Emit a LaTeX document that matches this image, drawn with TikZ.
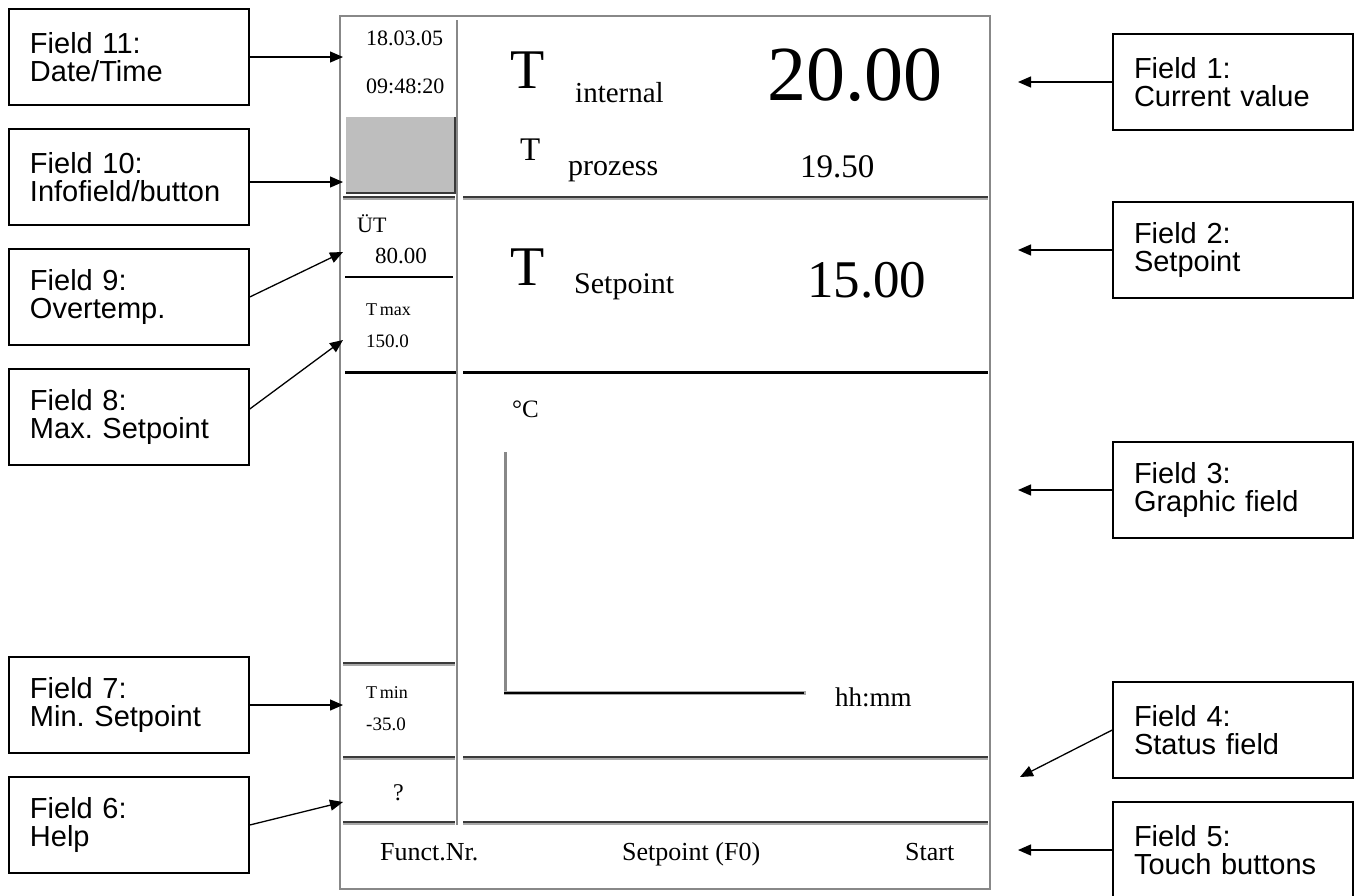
\documentclass[tikz,border=0pt]{standalone}
\usepackage{fontspec}
\setmainfont{Liberation Serif}
\newfontfamily\arialf{Liberation Sans}
\usetikzlibrary{arrows.meta,calc}
\definecolor{scrgray}{HTML}{888888}
\definecolor{darkln}{HTML}{3A3A3A}
\definecolor{lightln}{HTML}{A8A8A8}
\definecolor{btngray}{HTML}{BEBEBE}
\newcommand{\fs}[1]{\fontsize{#1}{#1}\selectfont}
\tikzset{
  callout/.style={draw=black, line width=1.5pt, minimum width=240pt, minimum height=96pt,
    text width=198pt, inner xsep=21pt, align=left, font=\arialf\fontsize{29}{28}\selectfont\frenchspacing},
  pointer/.style={line width=1.3pt, -{Triangle[length=13pt,width=11pt]}},
  screen/.style={draw=scrgray, line width=2pt},
  divider/.style={draw=scrgray, line width=2.5pt},
  dlo/.style={draw=lightln, line width=4.5pt},
  dli/.style={draw=darkln, line width=2.2pt},
  heavy/.style={draw=black, line width=3pt},
  thin/.style={draw=black, line width=1.5pt},
  lbl/.style={anchor=base west, inner sep=0pt},
}
\newcommand{\dbl}[3]{\draw[dlo] (#1,#3+0.8) -- (#2,#3+0.8); \draw[dli] (#1,#3) -- (#2,#3);}
\begin{document}
\begin{tikzpicture}[x=1pt,y=-1pt]
\useasboundingbox (0,0) rectangle (1361,895);
% ---------- screen ----------
\draw[screen] (340,16) rectangle (990,889);
\draw[divider] (457,20) -- (457,825);
% info button
\fill[btngray] (346,117) rectangle (455,193);
\draw[darkln, line width=2pt] (455,117) -- (455,193) -- (346,193);
% separators
\dbl{343}{455}{197}
\dbl{463}{988}{197}
\draw[thin] (345,277) -- (453,277);
\draw[heavy] (345,372) -- (456,372);
\draw[heavy] (463,372) -- (988,372);
\dbl{343}{455}{663}
\dbl{343}{455}{757}
\dbl{463}{988}{757}
\dbl{343}{455}{822}
\dbl{463}{988}{822}
% graph axes
\draw[scrgray, line width=3pt] (505,452) -- (505,694);
\draw[lightln, line width=4.5pt] (504,693) -- (806,693);
\draw[black, line width=2pt] (504,692.5) -- (804,692.5);
% ---------- screen texts ----------
\node[lbl] (date) at (366,45) {\fs{22}18.03.05};
\node[lbl] (time) at (366,93) {\fs{22}09:48:20};
\node[lbl] (tint) at (510,88) {\fs{56}T};
\node[lbl] (int) at (575,102) {\fs{29}internal};
\node[lbl] (val1) at (767,100) {\fs{78}20.00};
\node[lbl] (tpro) at (520,160) {\fs{33}T};
\node[lbl] (pro) at (568,175) {\fs{30}prozess};
\node[lbl] (val1b) at (800,177) {\fs{33}19.50};
\node[lbl] (ut) at (357,232) {\fs{22}ÜT};
\node[lbl] (utv) at (375,263) {\fs{23}80.00};
\node[lbl] (tmax) at (366,315) {\fs{18}T\kern0.15em max};
\node[lbl] (tmaxv) at (366,347) {\fs{19}150.0};
\node[lbl] (tset) at (510,285) {\fs{56}T};
\node[lbl] (set) at (574,293) {\fs{30}Setpoint};
\node[lbl] (val2) at (807,297) {\fs{53}15.00};
\node[lbl] (degc) at (512,417) {\fs{25}°C};
\node[lbl] (hhmm) at (835,706) {\fs{27}hh:mm};
\node[lbl] (tmin) at (366,698) {\fs{18}T\kern0.15em min};
\node[lbl] (tminv) at (366,730) {\fs{19}-35.0};
\node[lbl] (help) at (393,800) {\fs{24}?};
\node[lbl] (fn) at (380,860) {\fs{26}Funct.Nr.};
\node[lbl] (sp) at (622,860) {\fs{26}Setpoint (F0)};
\node[lbl] (st) at (905,860) {\fs{26}Start};
% ---------- callouts ----------
\node[callout] (f11) at (129,57) {Field 11:\\Date/Time};
\node[callout] (f10) at (129,177) {Field 10:\\Infofield/button};
\node[callout] (f9) at (129,297) {Field 9:\\Overtemp.};
\node[callout] (f8) at (129,417) {Field 8:\\Max. Setpoint};
\node[callout] (f7) at (129,705) {Field 7:\\Min. Setpoint};
\node[callout] (f6) at (129,825) {Field 6:\\Help};
\node[callout] (f1) at (1233,82) {Field 1:\\Current value};
\node[callout] (f2) at (1233,250) {Field 2:\\Setpoint};
\node[callout] (f3) at (1233,490) {Field 3:\\Graphic field};
\node[callout] (f4) at (1233,730) {Field 4:\\Status field};
\node[callout] (f5) at (1233,850) {Field 5:\\Touch buttons};
% arrow targets
\coordinate (a11) at (343,57);
\coordinate (a10) at (343,182);
\coordinate (a9) at (343,252);
\coordinate (a8) at (343,340);
\coordinate (a7) at (343,705);
\coordinate (a6) at (343,802);
\coordinate (a1) at (1018,82);
\coordinate (a2) at (1018,250);
\coordinate (a3) at (1018,490);
\coordinate (a4) at (1020,777);
\coordinate (a5) at (1018,850);
% arrows
\draw[pointer] (f11.east) -- (a11);
\draw[pointer] ($(f10.east)+(0,5)$) -- (a10);
\draw[pointer] (f9.east) -- (a9);
\draw[pointer] ($(f8.east)+(0,-8)$) -- (a8);
\draw[pointer] (f7.east) -- (a7);
\draw[pointer] (f6.east) -- (a6);
\draw[pointer] (f1.west) -- (a1);
\draw[pointer] (f2.west) -- (a2);
\draw[pointer] (f3.west) -- (a3);
\draw[pointer] (f4.west) -- (a4);
\draw[pointer] (f5.west) -- (a5);
\end{tikzpicture}
\end{document}
